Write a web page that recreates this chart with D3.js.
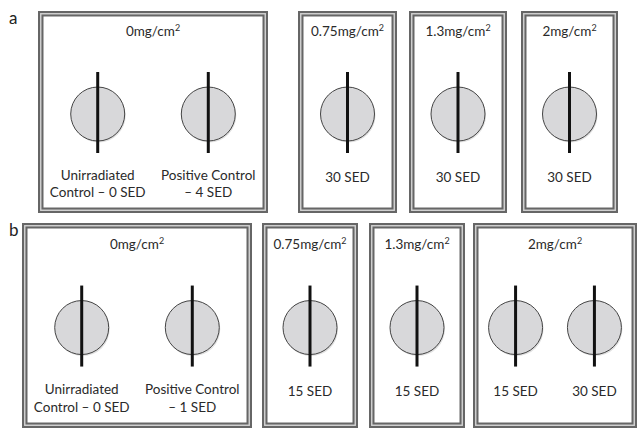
<!DOCTYPE html>
<html>
<head>
<meta charset="utf-8">
<script src="https://cdnjs.cloudflare.com/ajax/libs/d3/7.8.5/d3.min.js"></script>
<style>
  html, body { margin: 0; padding: 0; background: #fff; }
  svg { display: block; }
</style>
</head>
<body>
<svg id="fig"></svg>
<script>
// panel data
const rowLetters = ["a", "b"];
const doseLabels = ["0mg/cm", "0.75mg/cm", "1.3mg/cm", "2mg/cm"];
const rowADishes = [
  [["Unirradiated", "Control \u2013 0 SED"], ["Positive Control", "\u2013 4 SED"]],
  [["30 SED"]],
  [["30 SED"]],
  [["30 SED"]]
];
const rowBDishes = [
  [["Unirradiated", "Control \u2013 0 SED"], ["Positive Control", "\u2013 1 SED"]],
  [["15 SED"]],
  [["15 SED"]],
  [["15 SED"], ["30 SED"]]
];

// layout (outer edges of each box, pixels)
const rowLayout = [
  {top: 11, bottom: 213, boxes: [[38, 268], [298, 397], [409, 507], [521, 618]]},
  {top: 223, bottom: 428, boxes: [[22, 252], [262, 358], [369, 465], [473, 637]]}
];

const width = 638, height = 429;
const borderW = 5.5;
const dishR = 27;

const svg = d3.select("#fig")
  .attr("width", width)
  .attr("height", height)
  .style("font-family", "Lato, 'Open Sans', sans-serif");

const rows = [rowADishes, rowBDishes];

rows.forEach((dishes, ri) => {
  const lay = rowLayout[ri];
  const g = svg.append("g");

  // vertical positions inside a row
  const y = d3.scaleLinear().domain([0, 1]).range([lay.top, lay.bottom]);
  const doseY = y(0.125);
  const dishY = y(0.51);
  const textY = y(0.845);

  g.append("text")
    .attr("x", 9)
    .attr("y", lay.top + 13)
    .attr("font-size", 17)
    .attr("fill", "#222")
    .text(rowLetters[ri]);

  dishes.forEach((dishList, bi) => {
    const [x0, x1] = lay.boxes[bi];
    const box = g.append("g");

    // double border
    box.append("rect")
      .attr("x", x0 + borderW / 2)
      .attr("y", lay.top + borderW / 2)
      .attr("width", x1 - x0 - borderW)
      .attr("height", lay.bottom - lay.top - borderW)
      .attr("fill", "#fff")
      .attr("stroke", "#666")
      .attr("stroke-width", borderW);
    box.append("rect")
      .attr("x", x0 + borderW / 2)
      .attr("y", lay.top + borderW / 2)
      .attr("width", x1 - x0 - borderW)
      .attr("height", lay.bottom - lay.top - borderW)
      .attr("fill", "none")
      .attr("stroke", "#d4d4d4")
      .attr("stroke-width", 1.4);

    // dose title with superscript 2
    const t = box.append("text")
      .attr("x", (x0 + x1) / 2)
      .attr("y", doseY)
      .attr("text-anchor", "middle")
      .attr("font-size", 13.5)
      .attr("fill", "#2a2a2a");
    t.append("tspan").text(doseLabels[bi]);
    t.append("tspan").attr("dy", -5).attr("font-size", 9).text("2");

    const xp = d3.scalePoint()
      .domain(d3.range(dishList.length))
      .range([x0, x1])
      .padding(dishList.length > 1 ? 0.54 : 0.5);

    dishList.forEach((lines, di) => {
      const cx = xp(di);
      box.append("circle")
        .attr("cx", cx + 1)
        .attr("cy", dishY + 1.5)
        .attr("r", dishR)
        .attr("fill", "#000")
        .attr("opacity", 0.12);
      box.append("circle")
        .attr("cx", cx)
        .attr("cy", dishY)
        .attr("r", dishR)
        .attr("fill", "#d8d8da")
        .attr("stroke", "#444")
        .attr("stroke-width", 1);
      box.append("line")
        .attr("x1", cx).attr("x2", cx)
        .attr("y1", dishY - 42).attr("y2", dishY + 39)
        .attr("stroke", "#111")
        .attr("stroke-width", 3);

      const lbl = box.append("text")
        .attr("x", cx)
        .attr("y", lines.length > 1 ? textY - 2 : textY)
        .attr("text-anchor", "middle")
        .attr("font-size", 13.5)
        .attr("fill", "#2a2a2a");
      lines.forEach((s, li) => {
        lbl.append("tspan")
          .attr("x", cx)
          .attr("dy", li === 0 ? 0 : 17.5)
          .text(s);
      });
    });
  });
});
</script>
</body>
</html>
